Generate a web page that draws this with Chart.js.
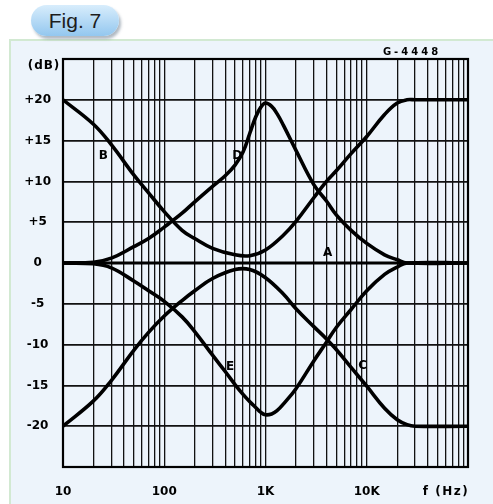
<!DOCTYPE html>
<html>
<head>
<meta charset="utf-8">
<script src="https://cdn.jsdelivr.net/npm/chart.js@4.4.1/dist/chart.umd.min.js"></script>
<style>
  html, body { margin: 0; padding: 0; background: #ffffff; }
  #wrap { position: relative; width: 493px; height: 504px; overflow: hidden; }
  #panel {
    position: absolute; left: 9px; top: 39px; right: -3px; bottom: -3px;
    background: #edf4fb; border: 2px solid #d2e9d2;
  }
  #badge {
    position: absolute; left: 31px; top: 5px; width: 88px; height: 31px;
    border-radius: 16px;
    background: linear-gradient(#d8edfc, #93c7ef);
    box-shadow: 2px 3px 3px rgba(80, 100, 120, 0.45);
    font: 21px "Liberation Sans", Arial, sans-serif; color: #1d1d1d;
    text-align: center; line-height: 31px;
  }
  canvas { position: absolute; left: 0; top: 0; }
</style>
</head>
<body>
<div id="wrap">
  <div id="panel"></div>
  <div id="badge">Fig. 7</div>
  <canvas id="response" width="493" height="504"></canvas>
</div>
<script>
// boost/cut at both ends (B = up, C = down)
const freqShelf = [10, 20, 30, 50, 70, 100, 150, 200, 300, 500, 700, 1000, 1500, 2000, 3000, 4000, 5000, 7000, 10000, 15000, 20000, 25000, 30000, 100000];
const curveB = [20, 17.0, 14.5, 10.8, 8.6, 6.3, 4.0, 3.0, 1.8, 1.0, 0.9, 1.6, 3.4, 5.1, 8.0, 10.0, 11.3, 13.4, 15.5, 18.2, 19.6, 20, 20, 20];
const curveC = [-20, -16.9, -14.4, -10.7, -8.5, -6.5, -4.6, -3.4, -1.9, -0.8, -0.8, -1.8, -3.8, -5.6, -7.8, -9.3, -10.6, -12.8, -15.1, -17.8, -19.2, -19.8, -20, -20];

// midrange peak / dip (D up, E down)
const freqMid = [10, 20, 30, 50, 70, 100, 150, 200, 300, 400, 500, 600, 700, 800, 900, 1000, 1150, 1300, 1500, 2000, 3000, 4000, 5000, 7000, 10000, 15000, 20000, 25000, 100000];
const curveD = [0, 0.1, 0.6, 2.0, 3.0, 4.4, 6.1, 7.5, 9.4, 10.7, 12.0, 13.6, 15.9, 17.9, 19.1, 19.6, 19.2, 18.3, 16.9, 13.8, 9.6, 7.6, 5.9, 4.0, 2.4, 1.0, 0.4, 0, 0];
const curveE = [0, -0.1, -0.6, -2.2, -3.4, -4.7, -6.6, -8.4, -11.3, -13.3, -14.9, -16.1, -17.0, -17.7, -18.3, -18.6, -18.5, -18.1, -17.3, -15.4, -12.0, -9.7, -7.9, -5.7, -3.4, -1.4, -0.5, 0, 0];

// flat response
const freqFlat = [10, 100000];
const curveA = [0, 0];

const xLabelValues = [10, 100, 1000, 10000];
const xLabelText = ['10', '100', '1K', '10K'];
const gridMultiples = [1, 2, 3, 4, 5, 6, 7, 8, 9];

// letter tags next to each curve (frequency, dB)
const curveTags = [
  { text: 'B', f: 25, db: 13.1 },
  { text: 'D', f: 525, db: 13.1 },
  { text: 'A', f: 4100, db: 1.2 },
  { text: 'E', f: 446, db: -12.7 },
  { text: 'C', f: 9100, db: -12.6 }
];

const BOLD = '"DejaVu Sans", sans-serif';

function toPoints(freq, vals) {
  return freq.map((f, i) => ({ x: f, y: vals[i] }));
}

function curve(freq, vals, width) {
  return {
    data: toPoints(freq, vals),
    borderColor: '#000',
    borderWidth: width,
    pointRadius: 0,
    fill: false,
    tension: 0.4
  };
}

const annotate = {
  id: 'annotate',
  afterDraw(chart) {
    const ctx = chart.ctx;
    const area = chart.chartArea;
    const xs = chart.scales.x, ys = chart.scales.y;
    ctx.save();
    // frame
    ctx.strokeStyle = '#000';
    ctx.lineWidth = 2.2;
    ctx.strokeRect(area.left, area.top, area.right - area.left, area.bottom - area.top);

    ctx.fillStyle = '#000';
    ctx.textAlign = 'center';
    ctx.textBaseline = 'middle';

    ctx.font = 'bold 12px ' + BOLD;
    curveTags.forEach(t => {
      ctx.fillText(t.text, xs.getPixelForValue(t.f), ys.getPixelForValue(t.db));
    });

    ctx.letterSpacing = '1px';
    ctx.fillText('(dB)', 44, 66);

    ctx.letterSpacing = '1.5px';
    ctx.fillText('f (Hz)', 446, 492);

    ctx.font = 'bold 10px ' + BOLD;
    ctx.letterSpacing = '3px';
    ctx.fillText('G-4448', 412, 52);
    ctx.restore();
  }
};

new Chart(document.getElementById('response').getContext('2d'), {
  type: 'line',
  data: {
    datasets: [
      curve(freqFlat, curveA, 3.2),
      curve(freqShelf, curveB, 3.6),
      curve(freqShelf, curveC, 3.6),
      curve(freqMid, curveD, 3.6),
      curve(freqMid, curveE, 3.6)
    ]
  },
  options: {
    responsive: false,
    animation: false,
    layout: { padding: { top: 59, right: 25, left: 0, bottom: 0 } },
    plugins: { legend: { display: false }, tooltip: { enabled: false } },
    scales: {
      x: {
        type: 'logarithmic',
        min: 10,
        max: 100000,
        afterBuildTicks(scale) {
          const ticks = [];
          for (let dec = 10; dec < 100000; dec *= 10) {
            gridMultiples.forEach(m => ticks.push({ value: dec * m }));
          }
          ticks.push({ value: 100000 });
          scale.ticks = ticks;
        },
        afterFit(scale) { scale.height = 37; },
        grid: { color: '#111', lineWidth: 1.3, drawTicks: false },
        border: { display: false },
        ticks: {
          autoSkip: false,
          maxRotation: 0,
          padding: 18,
          color: '#000',
          font: { family: BOLD, size: 12, weight: 'bold' },
          callback(v) {
            const i = xLabelValues.indexOf(v);
            return i >= 0 ? xLabelText[i] : '';
          }
        }
      },
      y: {
        min: -25,
        max: 25,
        afterFit(scale) { scale.width = 63; },
        grid: { color: '#111', lineWidth: 1.7, drawTicks: false },
        border: { display: false },
        ticks: {
          stepSize: 5,
          padding: 12,
          crossAlign: 'center',
          color: '#000',
          font: { family: BOLD, size: 12, weight: 'bold' },
          callback(v) {
            if (Math.abs(v) === 25) return '';
            return v > 0 ? '+' + v : String(v);
          }
        }
      }
    }
  },
  plugins: [annotate]
});
</script>
</body>
</html>
